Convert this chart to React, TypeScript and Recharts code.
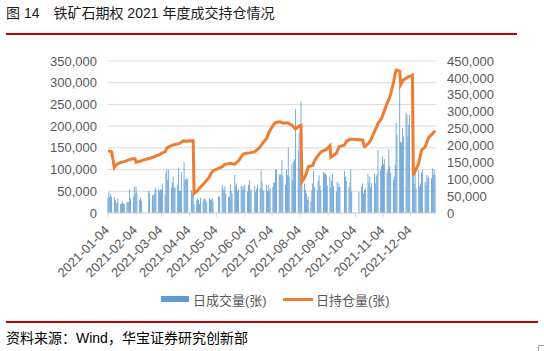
import React from 'react';
import { ComposedChart, Bar, Line, XAxis, YAxis, CartesianGrid } from 'recharts';

// 2021 exchange holidays falling on weekdays
const holidays = [
  '2021-01-01', '2021-02-11', '2021-02-12', '2021-02-15', '2021-02-16', '2021-02-17',
  '2021-04-05', '2021-05-03', '2021-05-04', '2021-05-05', '2021-06-14',
  '2021-09-20', '2021-09-21', '2021-10-01', '2021-10-04', '2021-10-05', '2021-10-06', '2021-10-07',
];

// daily volume, thousands of contracts, one value per trading day
const volJan = [34, 49, 37, 44, 38, 36, 30, 24, 22, 34, 21, 22, 26, 22, 21, 26, 24, 26, 55, 34];
const volFeb = [38, 61, 45, 61, 47, 30, 35, 28, 51, 45, 41, 41, 44, 59, 53];
const volMar = [55, 51, 54, 54, 68, 41, 91, 100, 76, 99, 59, 70, 84, 59, 59, 65, 105, 51, 51, 94, 117, 76, 78];
const volApr = [80, 78, 53, 45, 48, 21, 28, 34, 30, 21, 35, 28, 32, 34, 30, 25, 34, 30, 32, 34, 26];
const volMay = [38, 38, 65, 57, 51, 61, 45, 36, 38, 65, 50, 45, 88, 61, 68, 50, 55, 62];
const volJun = [62, 53, 61, 65, 50, 65, 76, 50, 55, 62, 48, 55, 65, 57, 99, 72, 53, 51, 65, 50, 65];
const volJul = [49, 57, 60, 70, 70, 100, 100, 88, 90, 88, 122, 84, 65, 100, 88, 151, 84, 114, 76, 118, 124, 239];
const volAug = [145, 185, 103, 256, 84, 68, 53, 45, 30, 38, 26, 53, 68, 97, 59, 53, 74, 87, 64, 53, 95, 91];
const volSep = [91, 87, 64, 84, 59, 74, 90, 62, 49, 72, 59, 68, 60, 97, 84, 74, 59, 72, 100, 49];
const volOct = [49, 61, 68, 45, 53, 57, 90, 68, 84, 60, 68, 91, 68, 84, 90, 145];
const volNov = [99, 108, 130, 113, 124, 93, 101, 147, 108, 93, 76, 84, 111, 207, 180, 291, 164, 162, 195, 176, 230, 226];
const volDec = [176, 203, 226, 230, 95, 68, 91, 57, 99, 61, 68, 93, 99, 72, 65, 88, 80, 84, 80, 103, 88, 100, 88];
const volByMonth = [volJan, volFeb, volMar, volApr, volMay, volJun, volJul, volAug, volSep, volOct, volNov, volDec];

// open interest, thousands of contracts
const oiDates = [
  '2021-01-04', '2021-01-07', '2021-01-08', '2021-01-11', '2021-01-14', '2021-01-18', '2021-01-22', '2021-01-27',
  '2021-01-29', '2021-02-02', '2021-02-03', '2021-02-04', '2021-02-09', '2021-02-10', '2021-02-19', '2021-02-24',
  '2021-02-26', '2021-03-02', '2021-03-04', '2021-03-08', '2021-03-10', '2021-03-11', '2021-03-16', '2021-03-19',
  '2021-03-24', '2021-03-26', '2021-03-29', '2021-03-31', '2021-04-02', '2021-04-08', '2021-04-09', '2021-04-12',
  '2021-04-15', '2021-04-20', '2021-04-23', '2021-04-26', '2021-04-28', '2021-04-30', '2021-05-06', '2021-05-10',
  '2021-05-13', '2021-05-17', '2021-05-20', '2021-05-24', '2021-05-26', '2021-05-28', '2021-06-02', '2021-06-04',
  '2021-06-09', '2021-06-15', '2021-06-17', '2021-06-21', '2021-06-24', '2021-06-28', '2021-07-01', '2021-07-02',
  '2021-07-06', '2021-07-08', '2021-07-13', '2021-07-16', '2021-07-21', '2021-07-26', '2021-07-30', '2021-08-03',
  '2021-08-05', '2021-08-06', '2021-08-09', '2021-08-11', '2021-08-13', '2021-08-18', '2021-08-20', '2021-08-23',
  '2021-08-27', '2021-09-02', '2021-09-06', '2021-09-07', '2021-09-13', '2021-09-16', '2021-09-22', '2021-09-24',
  '2021-09-28', '2021-09-30', '2021-10-12', '2021-10-14', '2021-10-15', '2021-10-19', '2021-10-21', '2021-10-25',
  '2021-10-28', '2021-10-29', '2021-11-02', '2021-11-04', '2021-11-08', '2021-11-10', '2021-11-12', '2021-11-15',
  '2021-11-17', '2021-11-18', '2021-11-22', '2021-11-23', '2021-11-26', '2021-12-02', '2021-12-06', '2021-12-07',
  '2021-12-10', '2021-12-13', '2021-12-16', '2021-12-20', '2021-12-24', '2021-12-28', '2021-12-31',
];
const oiValues = [
  184, 182, 181, 135, 145, 150, 152, 157,
  159, 161, 160, 150, 154, 155, 162, 166,
  169, 173, 177, 181, 192, 194, 201, 203,
  206, 210, 214, 212, 213, 214, 58, 64,
  73, 88, 97, 107, 118, 125, 132, 137,
  144, 146, 147, 144, 150, 154, 174, 176,
  178, 181, 186, 196, 208, 221, 240, 246,
  262, 268, 270, 266, 267, 260, 249, 258,
  260, 93, 105, 117, 137, 141, 155, 167,
  181, 188, 199, 165, 177, 196, 201, 212,
  218, 218, 216, 197, 198, 208, 216, 241,
  258, 265, 280, 295, 325, 336, 352, 385,
  413, 423, 420, 380, 394, 404, 408, 112,
  130, 147, 186, 196, 224, 234, 244,
];

const tickDates = [
  '2021-01-04', '2021-02-04', '2021-03-04', '2021-04-04', '2021-05-04', '2021-06-04',
  '2021-07-04', '2021-08-04', '2021-09-04', '2021-10-04', '2021-11-04', '2021-12-04',
];
const leftTicks = [0, 50000, 100000, 150000, 200000, 250000, 300000, 350000];
const rightTicks = [0, 50000, 100000, 150000, 200000, 250000, 300000, 350000, 400000, 450000];

const FONT = '"Liberation Sans", Arial, "Noto Sans CJK SC", sans-serif';

const dayOfYear = (s: string) => {
  const [y, m, d] = s.split('-').map(Number);
  return (Date.UTC(y, m - 1, d) - Date.UTC(y, 0, 1)) / 864e5 + 1;
};

function tradingDays(month: number) {
  const out: string[] = [];
  for (let d = 1; d <= 31; d++) {
    const dt = new Date(Date.UTC(2021, month, d));
    if (dt.getUTCMonth() !== month) break;
    const wd = dt.getUTCDay();
    const key = dt.toISOString().slice(0, 10);
    if (wd === 0 || wd === 6 || holidays.includes(key)) continue;
    out.push(key);
  }
  return out;
}

const rows = new Map<number, { day: number; vol?: number; oi?: number }>();
volByMonth.forEach((vals, m) => {
  const days = tradingDays(m);
  vals.forEach((v, i) => {
    if (!days[i]) return;
    const day = dayOfYear(days[i]);
    rows.set(day, { ...(rows.get(day) || { day }), vol: v * 1000 });
  });
});
oiDates.forEach((s, i) => {
  const day = dayOfYear(s);
  rows.set(day, { ...(rows.get(day) || { day }), oi: oiValues[i] * 1000 });
});
const data = Array.from(rows.values()).sort((a, b) => a.day - b.day);

const xTicks = tickDates.map(dayOfYear);
const labelOf = (day: number) => tickDates[xTicks.indexOf(day)] || '';
const fmt = (v: number) => v.toLocaleString('en-US');

const DateTick = (props: any) => {
  const { x, y, payload } = props;
  const ax = x + 2;
  const ay = y + 12;
  return (
    <text x={ax} y={ay} textAnchor="end" fill="#595959" fontSize={13} fontFamily={FONT}
      transform={`rotate(-45, ${ax}, ${ay})`}>
      {labelOf(payload.value)}
    </text>
  );
};

export default function App() {
  const axisTick = { fill: '#595959', fontSize: 13, fontFamily: FONT };
  return (
    <div style={{ position: 'absolute', left: 0, top: 0, width: 544, height: 351, background: '#fff', fontFamily: FONT }}>
      <div style={{ position: 'absolute', left: 6, top: 2, fontSize: 14, color: '#1a1a1a', whiteSpace: 'pre' }}>
        图 14{'\u3000'}铁矿石期权 2021 年度成交持仓情况
      </div>
      <div style={{ position: 'absolute', left: 6, top: 33, width: 511, height: 2, background: '#C00000' }} />

      <div style={{ position: 'absolute', left: 0, top: 0 }}>
        <ComposedChart width={544} height={351} data={data} margin={{ top: 61, right: 58, bottom: 78, left: 58 }}>
          <CartesianGrid yAxisId="left" horizontal vertical={false} stroke="#D9D9D9" />
          <XAxis
            dataKey="day"
            type="number"
            domain={[4, 366]}
            ticks={xTicks}
            interval={0}
            height={60}
            stroke="#D9D9D9"
            tickSize={4}
            tick={<DateTick />}
          />
          <YAxis
            yAxisId="left"
            width={50}
            domain={[0, 350000]}
            ticks={leftTicks}
            interval={0}
            axisLine={false}
            tickLine={false}
            tickMargin={5}
            tick={axisTick}
            tickFormatter={fmt}
          />
          <YAxis
            yAxisId="right"
            orientation="right"
            width={50}
            domain={[0, 450000]}
            ticks={rightTicks}
            interval={0}
            axisLine={false}
            tickLine={false}
            tickMargin={5}
            tick={{ ...axisTick, textAnchor: 'start' }}
            tickFormatter={fmt}
          />
          <Bar yAxisId="left" dataKey="vol" fill="#5B9BD5" barSize={1} isAnimationActive={false} />
          <Line
            yAxisId="right"
            dataKey="oi"
            type="linear"
            stroke="#ED7D31"
            strokeWidth={3}
            dot={false}
            connectNulls
            isAnimationActive={false}
          />
        </ComposedChart>
      </div>

      <div style={{ position: 'absolute', left: 161, top: 296, width: 28, height: 6, background: '#5B9BD5' }} />
      <div style={{ position: 'absolute', left: 193, top: 290, fontSize: 13, color: '#595959' }}>日成交量(张)</div>
      <div style={{ position: 'absolute', left: 283, top: 297.5, width: 30, height: 3, background: '#ED7D31' }} />
      <div style={{ position: 'absolute', left: 316, top: 290, fontSize: 13, color: '#595959' }}>日持仓量(张)</div>

      <div style={{ position: 'absolute', left: 6, top: 320.5, width: 532, height: 2, background: '#C00000' }} />
      <div style={{ position: 'absolute', left: 6, top: 327, fontSize: 14, color: '#000' }}>
        资料来源：Wind，华宝证券研究创新部
      </div>
      <div style={{ position: 'absolute', left: 538, top: 345, width: 6, height: 6, borderTop: '1px solid #A6A6A6', borderLeft: '1px solid #A6A6A6' }} />
    </div>
  );
}
